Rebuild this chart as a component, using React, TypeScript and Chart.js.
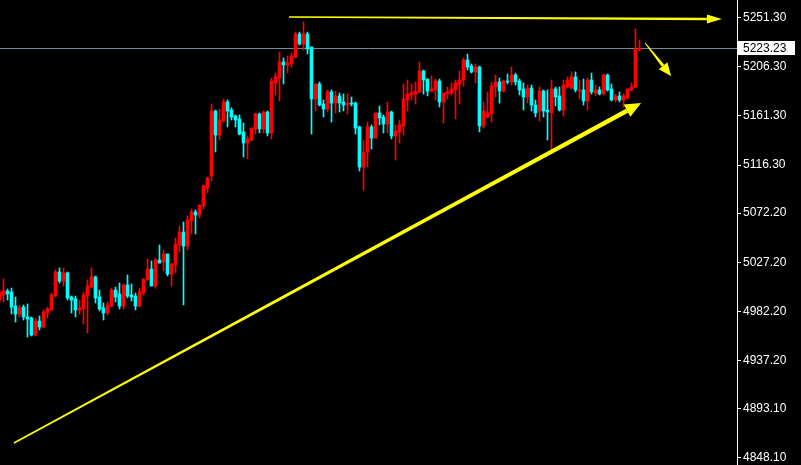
import React, { useEffect, useRef } from "react";
import { Chart, registerables } from "chart.js";

Chart.register(...registerables);

// ---- data (index = candle number, prices) ----
const opens = [
  4992.6, 4997.2, 5000.9, 5000.0, 4987.1, 4979.8, 4986.2, 4977.1, 4976.1, 4960.6,
  4973.4, 4967.9, 4980.7, 4983.5, 4996.3, 5018.3, 5010.0, 5017.4, 4995.4, 4993.6,
  4983.5, 4984.4, 4996.3, 5004.5, 5013.7, 4995.4, 4985.3, 4980.7, 4987.1, 5001.8,
  4998.1, 4987.1, 5006.4, 4997.2, 4996.3, 4987.1, 4999.0, 5011.0, 5021.0, 5005.5,
  5029.3, 5027.5, 5034.8, 5016.5, 5024.7, 5043.0, 5054.9, 5042.1, 5065.0, 5073.3,
  5070.5, 5078.8, 5095.3, 5106.3, 5165.8, 5143.8, 5156.7, 5174.1, 5166.7, 5161.2,
  5158.5, 5146.6, 5136.5, 5139.2, 5149.3, 5163.1, 5149.3, 5164.9, 5145.7, 5191.5,
  5196.0, 5210.7, 5208.0, 5208.9, 5215.3, 5236.4, 5227.2, 5236.4, 5224.5, 5176.8,
  5190.6, 5172.2, 5167.6, 5183.2, 5173.1, 5179.6, 5174.1, 5171.3, 5173.1, 5173.1,
  5151.2, 5114.5, 5128.2, 5151.2, 5141.1, 5164.0, 5160.3, 5153.9, 5164.9, 5142.9,
  5146.6, 5152.1, 5175.9, 5180.5, 5181.4, 5183.2, 5202.5, 5195.1, 5184.1, 5185.1,
  5193.3, 5174.1, 5181.4, 5182.3, 5185.1, 5190.6, 5194.2, 5212.5, 5207.0, 5201.6,
  5206.1, 5152.1, 5160.3, 5163.1, 5187.8, 5192.4, 5184.1, 5193.3, 5192.4, 5198.8,
  5193.3, 5186.0, 5178.6, 5186.9, 5171.3, 5165.8, 5184.1, 5166.7, 5164.0, 5186.0,
  5179.6, 5166.7, 5187.8, 5186.9, 5197.0, 5184.1, 5185.1, 5175.0, 5194.2, 5182.3,
  5185.1, 5181.4, 5198.8, 5186.0, 5175.9, 5179.6, 5175.9, 5177.7, 5185.1, 5187.8,
  5222.2,
];
const highs = [
  5001.8, 5011.9, 5002.7, 5003.6, 4995.4, 4988.1, 4988.1, 4989.0, 4977.1, 4976.1,
  4978.0, 4983.5, 4986.2, 4999.0, 5020.1, 5022.0, 5022.0, 5018.3, 4996.3, 4996.3,
  4992.6, 5000.0, 5011.0, 5022.0, 5014.6, 5001.8, 4989.9, 4990.8, 5003.6, 5004.5,
  5008.2, 5007.3, 5015.5, 5007.3, 4999.0, 5003.6, 5011.9, 5030.2, 5028.4, 5031.1,
  5043.0, 5038.4, 5034.8, 5026.5, 5049.4, 5060.4, 5064.1, 5069.6, 5076.0, 5075.1,
  5079.7, 5098.0, 5105.3, 5172.2, 5166.7, 5167.6, 5176.8, 5175.9, 5168.6, 5162.2,
  5162.2, 5154.8, 5142.9, 5150.2, 5164.0, 5164.0, 5165.8, 5165.8, 5196.0, 5200.6,
  5219.9, 5214.4, 5216.2, 5219.0, 5238.2, 5238.2, 5247.4, 5238.2, 5224.5, 5190.6,
  5192.4, 5175.9, 5185.1, 5185.1, 5184.1, 5182.3, 5181.4, 5181.4, 5178.6, 5174.1,
  5152.1, 5139.2, 5155.7, 5153.0, 5164.0, 5170.4, 5162.2, 5174.1, 5165.8, 5153.0,
  5157.6, 5190.6, 5194.2, 5190.6, 5192.4, 5210.7, 5203.4, 5195.1, 5197.9, 5195.1,
  5195.1, 5182.3, 5187.8, 5191.5, 5194.2, 5202.5, 5214.4, 5218.0, 5208.9, 5208.9,
  5207.0, 5174.1, 5183.2, 5192.4, 5198.8, 5196.0, 5194.2, 5199.7, 5206.1, 5200.6,
  5195.1, 5191.5, 5189.6, 5189.6, 5175.9, 5187.8, 5185.1, 5185.1, 5194.2, 5187.8,
  5187.8, 5194.2, 5197.0, 5201.6, 5201.6, 5194.2, 5195.1, 5196.0, 5200.6, 5189.6,
  5187.8, 5199.7, 5199.7, 5190.6, 5181.4, 5183.2, 5181.4, 5186.0, 5191.5, 5241.0,
  5230.9,
];
const lows = [
  4989.9, 4990.8, 4992.6, 4979.8, 4972.5, 4977.1, 4974.3, 4958.7, 4959.6, 4959.6,
  4965.1, 4967.0, 4976.1, 4982.6, 4995.4, 5008.2, 5005.5, 4992.6, 4980.7, 4977.1,
  4979.8, 4970.6, 4962.4, 5003.6, 4989.9, 4982.6, 4974.3, 4978.9, 4986.2, 4990.8,
  4984.4, 4984.4, 4994.5, 4991.7, 4983.5, 4986.2, 4997.2, 5011.0, 5005.5, 5003.6,
  5026.5, 5019.2, 5014.6, 5005.5, 5017.4, 5036.6, 4988.1, 5038.4, 5053.1, 5053.1,
  5067.8, 5076.0, 5090.7, 5101.7, 5128.2, 5139.2, 5155.7, 5151.2, 5157.6, 5151.2,
  5143.8, 5123.7, 5121.8, 5138.3, 5144.7, 5145.7, 5145.7, 5142.9, 5140.2, 5180.5,
  5175.0, 5190.6, 5200.6, 5206.1, 5214.4, 5226.3, 5221.7, 5218.0, 5144.7, 5165.8,
  5170.4, 5160.3, 5164.9, 5155.7, 5164.0, 5164.9, 5165.8, 5163.1, 5170.4, 5144.7,
  5110.8, 5093.4, 5114.5, 5131.0, 5141.1, 5153.0, 5145.7, 5145.7, 5140.2, 5120.9,
  5136.5, 5143.8, 5165.8, 5175.9, 5172.2, 5182.3, 5181.4, 5179.6, 5183.2, 5175.9,
  5169.5, 5154.8, 5176.8, 5180.5, 5158.5, 5172.2, 5188.7, 5203.4, 5200.6, 5191.5,
  5146.6, 5150.2, 5159.4, 5155.7, 5178.6, 5173.1, 5183.2, 5190.6, 5189.6, 5189.6,
  5180.5, 5166.7, 5173.1, 5165.8, 5160.3, 5156.7, 5160.3, 5139.2, 5130.1, 5170.4,
  5165.8, 5161.2, 5186.9, 5186.0, 5183.2, 5176.8, 5171.3, 5166.7, 5181.4, 5179.6,
  5180.5, 5180.5, 5184.1, 5175.0, 5174.1, 5174.1, 5169.5, 5176.8, 5184.1, 5186.9,
  5220.8,
];
const closes = [
  5000.0, 5000.9, 4998.1, 4986.2, 4979.8, 4985.3, 4977.1, 4975.2, 4960.6, 4973.4,
  4967.9, 4981.6, 4984.4, 4997.2, 5018.3, 5010.0, 5017.4, 4994.5, 4992.6, 4983.5,
  4985.3, 4997.2, 5005.5, 5013.7, 4994.5, 4984.4, 4980.7, 4988.1, 5001.8, 4995.4,
  4987.1, 5006.4, 4996.3, 4995.4, 4987.1, 5000.0, 5011.9, 5021.0, 5005.5, 5029.3,
  5026.5, 5034.8, 5016.5, 5025.6, 5043.9, 5054.9, 5042.1, 5065.9, 5073.3, 5070.5,
  5079.7, 5097.1, 5104.4, 5165.8, 5143.8, 5157.6, 5174.1, 5165.8, 5160.3, 5157.6,
  5144.7, 5136.5, 5140.2, 5150.2, 5163.1, 5149.3, 5164.9, 5145.7, 5193.3, 5197.0,
  5210.7, 5208.0, 5209.8, 5216.2, 5236.4, 5227.2, 5236.4, 5222.6, 5176.8, 5190.6,
  5171.3, 5167.6, 5183.2, 5173.1, 5179.6, 5173.1, 5171.3, 5173.1, 5172.2, 5150.2,
  5114.5, 5128.2, 5151.2, 5141.1, 5164.0, 5159.4, 5153.9, 5164.9, 5142.9, 5147.5,
  5153.0, 5176.8, 5181.4, 5182.3, 5184.1, 5202.5, 5194.2, 5184.1, 5186.0, 5193.3,
  5174.1, 5182.3, 5183.2, 5186.0, 5191.5, 5194.2, 5212.5, 5206.1, 5201.6, 5206.1,
  5152.1, 5165.8, 5164.0, 5188.7, 5192.4, 5184.1, 5193.3, 5192.4, 5198.8, 5192.4,
  5185.1, 5178.6, 5186.9, 5171.3, 5164.0, 5184.1, 5165.8, 5164.9, 5186.0, 5178.6,
  5166.7, 5189.6, 5194.2, 5197.0, 5185.1, 5185.1, 5175.0, 5194.2, 5183.2, 5185.1,
  5181.4, 5198.8, 5185.1, 5175.9, 5179.6, 5175.9, 5179.6, 5186.0, 5187.8, 5222.6,
  5223.23,
];

const yTickValues = [5251.3, 5206.3, 5161.3, 5116.3, 5072.2, 5027.2, 4982.2, 4937.2, 4893.1, 4848.1];
const currentPrice = 5223.23;
const yMin = 4841.44;
const yMax = 5267.52;
const xMin = 0.125;
const xMax = 184.375;

// annotation arrows in data units: [candleIndex, price]
const arrowTop = [[72.4, 5251.9], [180.6, 5250.1]];
const arrowDown = [[161.4, 5228.1], [167.9, 5197.9]];
const arrowTrend = [[3.6, 4861.6], [160.4, 5173.1]];

const UP = "#ff0000";
const DOWN = "#00ffff";
const ARROW = "#ffff00";

function drawArrow(ctx, x1, y1, x2, y2, w1, w2, headLen, headHalf) {
  const dx = x2 - x1, dy = y2 - y1;
  const len = Math.hypot(dx, dy);
  const ux = dx / len, uy = dy / len;
  const nx = -uy, ny = ux;
  const bx = x2 - ux * headLen, by = y2 - uy * headLen;
  ctx.beginPath();
  ctx.moveTo(x1 + nx * w1 / 2, y1 + ny * w1 / 2);
  ctx.lineTo(bx + nx * w2 / 2, by + ny * w2 / 2);
  ctx.lineTo(bx - nx * w2 / 2, by - ny * w2 / 2);
  ctx.lineTo(x1 - nx * w1 / 2, y1 - ny * w1 / 2);
  ctx.closePath();
  ctx.fill();
  ctx.beginPath();
  ctx.moveTo(x2, y2);
  ctx.lineTo(bx + nx * headHalf, by + ny * headHalf);
  ctx.lineTo(bx - nx * headHalf, by - ny * headHalf);
  ctx.closePath();
  ctx.fill();
}

const overlayPlugin = {
  id: "overlay",
  beforeDraw(chart) {
    const { ctx, width, height } = chart;
    ctx.save();
    ctx.fillStyle = "#000000";
    ctx.fillRect(0, 0, width, height);
    ctx.restore();
  },
  beforeDatasetsDraw(chart) {
    const { ctx, chartArea, scales } = chart;
    const y = Math.round(scales.y.getPixelForValue(currentPrice)) + 0.5;
    ctx.save();
    ctx.strokeStyle = "#778899";
    ctx.lineWidth = 1;
    ctx.beginPath();
    ctx.moveTo(chartArea.left, y);
    ctx.lineTo(chartArea.right, y);
    ctx.stroke();
    ctx.restore();
  },
  afterDraw(chart) {
    const { ctx, chartArea, scales } = chart;
    const px = (p) => [scales.x.getPixelForValue(p[0]), scales.y.getPixelForValue(p[1])];
    ctx.save();
    ctx.fillStyle = ARROW;
    const [a1, a2] = [px(arrowTop[0]), px(arrowTop[1])];
    drawArrow(ctx, a1[0], a1[1], a2[0], a2[1], 1.5, 2.5, 15, 4.5);
    const [b1, b2] = [px(arrowDown[0]), px(arrowDown[1])];
    drawArrow(ctx, b1[0], b1[1], b2[0], b2[1], 1, 3, 13, 5.5);
    const [c1, c2] = [px(arrowTrend[0]), px(arrowTrend[1])];
    drawArrow(ctx, c1[0], c1[1], c2[0], c2[1], 1.5, 4.5, 16, 7);

    // current price label
    const y = Math.round(scales.y.getPixelForValue(currentPrice));
    const left = chartArea.right + 1;
    ctx.fillStyle = "#ffffff";
    ctx.fillRect(left, y - 7, 57, 14);
    ctx.fillStyle = "#000000";
    ctx.font = "12px 'Liberation Sans', Arial, sans-serif";
    ctx.textBaseline = "middle";
    ctx.textAlign = "left";
    ctx.fillText(currentPrice.toFixed(2), left + 5, y + 0.5);
    ctx.restore();
  },
};

export default function App() {
  const canvasRef = useRef(null);

  useEffect(() => {
    const canvas = canvasRef.current;
    if (!canvas) return;
    const n = opens.length;
    const idx = Array.from({ length: n }, (_, i) => i);
    const colors = idx.map((i) => (closes[i] >= opens[i] ? UP : DOWN));
    const bodies = idx.map((i) => {
      const lo = Math.min(opens[i], closes[i]);
      let hi = Math.max(opens[i], closes[i]);
      if (hi - lo < 0.9) hi = lo + 0.9;
      return { x: i, y: [lo, hi] };
    });
    const wicks = idx.map((i) => ({ x: i, y: [lows[i], highs[i]] }));

    const chart = new Chart(canvas, {
      type: "bar",
      data: {
        datasets: [
          {
            label: "body",
            data: bodies,
            backgroundColor: colors,
            borderWidth: 0,
            barThickness: 3,
            grouped: false,
          },
          {
            label: "wick",
            data: wicks,
            backgroundColor: colors,
            borderWidth: 0,
            barThickness: 1,
            grouped: false,
          },
        ],
      },
      options: {
        animation: false,
        responsive: false,
        devicePixelRatio: 1,
        layout: { padding: 0 },
        plugins: {
          legend: { display: false },
          tooltip: { enabled: false },
        },
        scales: {
          x: {
            type: "linear",
            display: false,
            min: xMin,
            max: xMax,
            offset: false,
          },
          y: {
            position: "right",
            min: yMin,
            max: yMax,
            afterBuildTicks: (s) => {
              s.ticks = yTickValues.map((v) => ({ value: v }));
            },
            afterFit: (s) => {
              s.width = 64;
              s.paddingTop = 0;
              s.paddingBottom = 0;
            },
            ticks: {
              color: "#ffffff",
              font: { family: "'Liberation Sans', Arial, sans-serif", size: 12 },
              padding: 2,
              autoSkip: false,
              callback: (v) => Number(v).toFixed(2),
            },
            grid: {
              drawOnChartArea: false,
              drawTicks: true,
              tickLength: 4,
              color: "#ffffff",
            },
            border: { display: true, color: "#ffffff", width: 1 },
          },
        },
      },
      plugins: [overlayPlugin],
    });
    return () => chart.destroy();
  }, []);

  return (
    <div style={{ position: "fixed", left: 0, top: 0, width: 801, height: 465, background: "#000" }}>
      <canvas ref={canvasRef} width={801} height={465} style={{ display: "block", width: 801, height: 465 }} />
    </div>
  );
}
